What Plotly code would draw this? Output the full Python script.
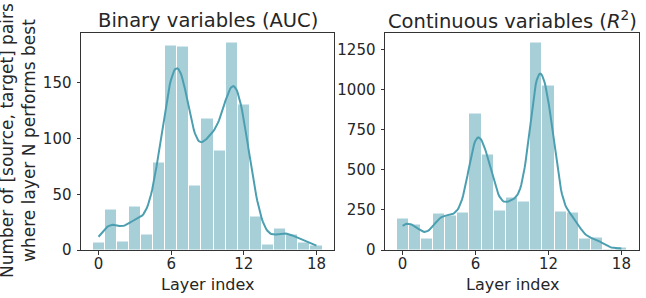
import numpy as np
import plotly.graph_objects as go

# ---- data ----
layers = list(range(19))
binary_counts = [7, 36, 8, 39, 14, 79, 184, 183, 58, 118, 89, 186, 131, 30, 4.5, 19, 14, 7, 4]
continuous_counts = [195, 157, 69, 226, 214, 232, 854, 597, 245, 327, 301, 1294, 1030, 239, 232, 69, 75, 6, 13]
x_ticks = [0, 6, 12, 18]
binary_yticks = [0, 50, 100, 150]
continuous_yticks = [0, 250, 500, 750, 1000, 1250]
titles = ["Binary variables (AUC)", "Continuous variables (<i>R</i><sup>2</sup>)"]
x_label = "Layer index"
y_label = "Number of [source, target] pairs<br>where layer N performs best"

BASE = "#4c9fb0"
BAR = "#a6cfd8"
TXT = "#262626"
AX = "#333333"
FONT = "DejaVu Sans"
W, H = 646, 298


def kde_curve(xs, counts, n_grid=200):
    """Gaussian KDE of the histogram data (as seaborn's histplot kde=True), count-scaled."""
    xs = np.asarray(xs, float)
    w = np.asarray(counts, float)
    n = w.sum()
    mean = (w * xs).sum() / n
    var = (w * (xs - mean) ** 2).sum() / (n - 1)
    bw = np.sqrt(var) * n ** (-1 / 5)
    grid = np.linspace(xs.min(), xs.max(), n_grid)
    dens = (w[None, :] * np.exp(-0.5 * ((grid[:, None] - xs[None, :]) / bw) ** 2)).sum(1)
    dens = dens / (n * bw * np.sqrt(2 * np.pi))
    return grid, dens * n * 1.0


fig = go.Figure()
panels = [(binary_counts, binary_yticks, "x", "y"), (continuous_counts, continuous_yticks, "x2", "y2")]
for counts, yt, xa, ya in panels:
    fig.add_trace(go.Bar(x=layers, y=counts, width=1, marker=dict(color=BAR, line=dict(color="white", width=1)),
                         xaxis=xa, yaxis=ya, showlegend=False))
    gx, gy = kde_curve(layers, counts)
    fig.add_trace(go.Scatter(x=gx, y=gy, mode="lines", line=dict(color=BASE, width=2),
                             xaxis=xa, yaxis=ya, showlegend=False))

x_domains = [[81 / W, 334 / W], [385 / W, 639 / W]]
y_domain = [48 / H, 265.5 / H]

common_axis = dict(showline=True, mirror=True, linecolor=AX, linewidth=1, ticks="outside", ticklen=3.5,
                   tickwidth=1, tickcolor=AX, showgrid=False, zeroline=False, automargin=False,
                   tickfont=dict(family=FONT, size=15, color=TXT))

layout = dict(width=W, height=H, margin=dict(l=0, r=0, t=0, b=0, pad=0, autoexpand=False),
              plot_bgcolor="white", paper_bgcolor="white", bargap=0, showlegend=False, template="none")
for i, (counts, yt, xa, ya) in enumerate(panels):
    sfx = "" if i == 0 else "2"
    layout["xaxis" + sfx] = dict(common_axis, domain=x_domains[i], range=[-1.45, 19.45], tickvals=x_ticks,
                                 anchor="y" + sfx, ticklabelstandoff=-4)
    layout["yaxis" + sfx] = dict(common_axis, domain=y_domain, range=[0, max(counts) * 1.05], tickvals=yt,
                                 anchor="x" + sfx, ticklabelstandoff=2)
fig.update_layout(**layout)

annots = []
for i in range(2):
    cx = (x_domains[i][0] + x_domains[i][1]) / 2
    annots.append(dict(text=titles[i], x=cx, y=1 - 20 / H, xref="paper", yref="paper", showarrow=False,
                       xanchor="center", yanchor="middle", font=dict(family=FONT, size=19.5, color=TXT)))
    annots.append(dict(text=x_label, x=cx, y=1 - 284 / H, xref="paper", yref="paper", showarrow=False,
                       xanchor="center", yanchor="middle", font=dict(family=FONT, size=16, color=TXT)))
annots.append(dict(text=y_label, x=18 / W, y=1 - 141 / H, xref="paper", yref="paper", showarrow=False,
                   xanchor="center", yanchor="middle", textangle=-90,
                   font=dict(family=FONT, size=17, color=TXT)))
fig.update_layout(annotations=annots)

page_fix = ("document.documentElement.style.margin='0';document.documentElement.style.padding='0';"
            "document.documentElement.style.overflow='hidden';"
            "document.body.style.margin='0';document.body.style.padding='0';document.body.style.overflow='hidden';")
fig.write_html("out.html", config={"displayModeBar": False}, post_script=page_fix)
